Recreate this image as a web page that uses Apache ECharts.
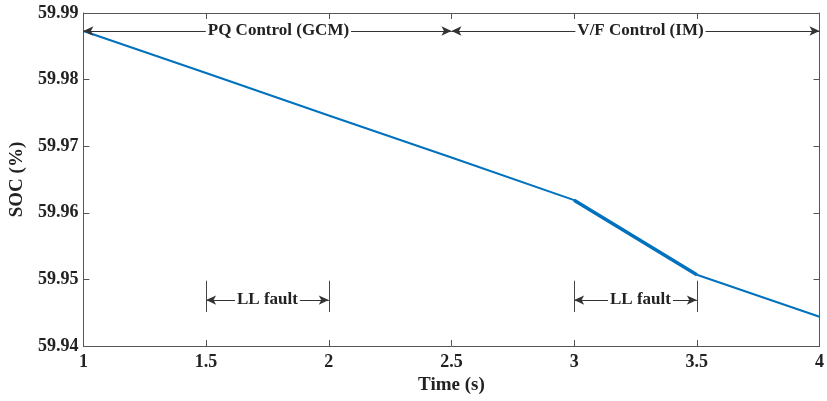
<!DOCTYPE html>
<html>
<head>
<meta charset="utf-8">
<script src="https://cdn.jsdelivr.net/npm/echarts@6/dist/echarts.min.js"></script>
<style>
  html, body { margin: 0; padding: 0; background: #fff; }
  #chart { width: 827px; height: 401px; }
</style>
</head>
<body>
<div id="chart"></div>
<script>
// SOC trace
const times = [1, 1.5, 2, 2.5, 3, 3.5, 4];
const soc = [59.9873, 59.9810, 59.9746, 59.9683, 59.9619, 59.9507, 59.9444];
const faultTimes = [3, 3.5];
const faultSoc = [59.9619, 59.9507];

// mode spans at the top, LL fault spans at the bottom
const modeSpans = [[1, 2.5, 'PQ Control (GCM)', 11], [2.5, 4, 'V/F Control (IM)', 5]];
const modeLevel = 59.9873;
const faultSpans = [[1.5, 2, 'LL fault', 0], [3, 3.5, 'LL fault', 5]];
const faultLevel = 59.9469;
const faultBar = [59.9451, 59.9498];

const font = '"Liberation Serif", "Times New Roman", serif';
const ink = '#222';
const frame = '#555';

const pairs = (x) => x.map((v, i) => [v, soc[i]]);

const arrowLines = modeSpans.map(s => [
    { coord: [s[0], modeLevel], label: { formatter: s[2], offset: [s[3], 0] } },
    { coord: [s[1], modeLevel] }
]).concat(faultSpans.map(s => [
    { coord: [s[0], faultLevel], label: { formatter: s[2], offset: [s[3], 0] } },
    { coord: [s[1], faultLevel] }
]));

const bars = [];
faultSpans.forEach(s => {
    bars.push([{ coord: [s[0], faultBar[0]] }, { coord: [s[0], faultBar[1]] }]);
    bars.push([{ coord: [s[1], faultBar[0]] }, { coord: [s[1], faultBar[1]] }]);
});

const axisBase = {
    axisLine: { show: true, lineStyle: { color: frame, width: 1 } },
    axisTick: { show: true, inside: true, length: 6, lineStyle: { color: frame } },
    splitLine: { show: false }
};

let myChart = echarts.init(document.getElementById('chart'));
const option = {
    animation: false,
    grid: { left: 81, right: 6, top: 13, bottom: 55 },
    xAxis: [
        Object.assign({}, axisBase, {
            type: 'value', min: 1, max: 4, interval: 0.5, position: 'bottom',
            name: 'Time (s)', nameLocation: 'middle', nameGap: 25,
            nameTextStyle: { fontFamily: font, fontWeight: 'bold', fontSize: 19, color: ink },
            axisLabel: { margin: 7, fontFamily: font, fontWeight: 'bold', fontSize: 18, color: ink }
        }),
        Object.assign({}, axisBase, {
            type: 'value', min: 1, max: 4, interval: 0.5, position: 'top',
            axisLabel: { show: false }
        })
    ],
    yAxis: [
        Object.assign({}, axisBase, {
            type: 'value', min: 59.94, max: 59.99, interval: 0.01, position: 'left',
            name: 'SOC (%)', nameLocation: 'middle', nameGap: 50,
            nameTextStyle: { fontFamily: font, fontWeight: 'bold', fontSize: 19, color: ink },
            axisLabel: {
                margin: 5, fontFamily: font, fontWeight: 'bold', fontSize: 18, color: ink,
                formatter: v => v.toFixed(2)
            }
        }),
        Object.assign({}, axisBase, {
            type: 'value', min: 59.94, max: 59.99, interval: 0.01, position: 'right',
            axisLabel: { show: false }
        })
    ],
    series: [
        {
            type: 'line',
            data: pairs(times),
            showSymbol: false,
            lineStyle: { color: '#0072BD', width: 2 },
            z: 3
        },
        {
            type: 'line',
            data: faultTimes.map((t, i) => [t, faultSoc[i]]),
            showSymbol: false,
            lineStyle: { color: '#0072BD', width: 3.5 },
            z: 3
        },
        {
            type: 'line',
            data: [],
            markLine: {
                silent: true,
                symbol: ['arrow', 'arrow'],
                symbolSize: [7, 10],
                lineStyle: { color: '#333', width: 1, type: 'solid' },
                itemStyle: { color: '#111' },
                label: {
                    show: true, position: 'middle', distance: 0, verticalAlign: 'middle',
                    backgroundColor: '#fff', padding: [1, 2],
                    fontFamily: font, fontWeight: 'bold', fontSize: 17, color: ink
                },
                data: arrowLines
            }
        },
        {
            type: 'line',
            data: [],
            markLine: {
                silent: true,
                symbol: ['none', 'none'],
                lineStyle: { color: '#444', width: 1, type: 'solid' },
                label: { show: false },
                data: bars
            }
        }
    ]
};
myChart.setOption(option);
</script>
</body>
</html>
